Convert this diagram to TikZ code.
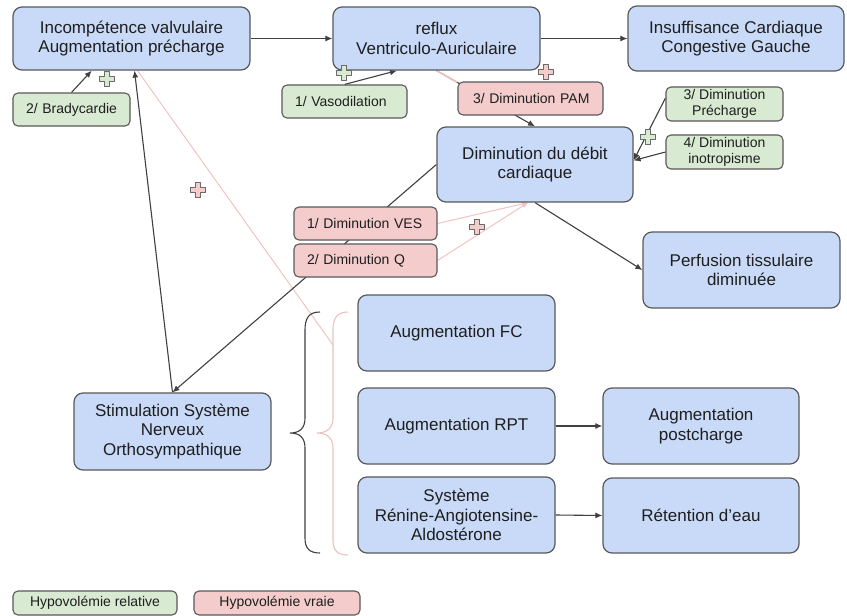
\documentclass[tikz,border=0pt]{standalone}
\usepackage{fontspec}
\setmainfont{Liberation Sans}
\usetikzlibrary{arrows.meta,calc}
\definecolor{bluefill}{HTML}{C9DAF8}
\definecolor{greenfill}{HTML}{D9EAD3}
\definecolor{redfill}{HTML}{F4CCCC}
\definecolor{bordergray}{HTML}{595959}
\definecolor{txt}{HTML}{1E1E1E}
\definecolor{edgegray}{HTML}{404040}
\definecolor{pinkln}{HTML}{F0C4C4}
\definecolor{pinkbrace}{HTML}{EBC3BE}
\definecolor{plusborder}{HTML}{6A6A6A}
\pgfdeclarelayer{bg}
\pgfdeclarelayer{edges}
\pgfsetlayers{bg,edges,main}
\begin{document}
\begin{tikzpicture}[x=1pt,y=-1pt,
  bigbox/.style={draw=bordergray, line width=1.2pt, fill=bluefill, rounded corners=9pt,
    align=center, inner sep=0pt, text=txt, font=\fontsize{17}{19.5}\selectfont},
  smallbox/.style={draw=bordergray, line width=1.1pt, rounded corners=5pt,
    align=center, inner sep=0pt, text=txt, font=\fontsize{14}{16}\selectfont},
  gbox/.style={smallbox, fill=greenfill},
  rbox/.style={smallbox, fill=redfill},
  leftbox/.style={align=left, inner xsep=13pt},
  edge/.style={draw=edgegray, line width=1.1pt, -{Latex[length=7pt,width=6pt]}},
  pinkedge/.style={draw=pinkln, line width=1pt},
  bracepath/.style={line width=1.1pt},
  pics/crossmark/.style={code={
    \draw[draw=plusborder, line width=1pt, fill=#1, line join=round]
      (-2.7,-7.5) -- (2.7,-7.5) -- (2.7,-2.7) -- (7.5,-2.7) -- (7.5,2.7) -- (2.7,2.7) -- (2.7,7.5)
      -- (-2.7,7.5) -- (-2.7,2.7) -- (-7.5,2.7) -- (-7.5,-2.7) -- (-2.7,-2.7) -- cycle;}}
]
\begin{pgfonlayer}{bg}
  \fill[white] (0,0) rectangle (847,616);
\end{pgfonlayer}
\useasboundingbox (0,0) rectangle (847,616);

% big boxes
\node[bigbox, minimum width=237pt, minimum height=63pt] (A) at (131.5,38.5) {Incompétence valvulaire\\Augmentation précharge};
\node[bigbox, minimum width=207pt, minimum height=63pt] (B) at (436.5,38.5) {reflux\\Ventriculo-Auriculaire};
\node[bigbox, minimum width=216pt, minimum height=65pt] (C) at (736,38.5) {Insuffisance Cardiaque\\Congestive Gauche};
\node[bigbox, minimum width=196pt, minimum height=75pt] (D) at (535,164.5) {Diminution du débit\\cardiaque};
\node[bigbox, minimum width=197pt, minimum height=76pt] (E) at (741.5,270) {Perfusion tissulaire\\diminuée};
\node[bigbox, minimum width=197pt, minimum height=76pt] (F1) at (456.5,333) {Augmentation FC};
\node[bigbox, minimum width=197pt, minimum height=76pt] (F2) at (456.5,426) {Augmentation RPT};
\node[bigbox, minimum width=197pt, minimum height=76pt] (F3) at (456.5,515) {Système\\Rénine-Angiotensine-\\Aldostérone};
\node[bigbox, minimum width=196pt, minimum height=76pt] (G2) at (701,426) {Augmentation\\postcharge};
\node[bigbox, minimum width=196pt, minimum height=75pt] (G3) at (701,515.5) {Rétention d'eau};
\node[bigbox, minimum width=197pt, minimum height=77pt] (S) at (172.5,431.5) {Stimulation Système\\Nerveux\\Orthosympathique};

% small boxes
\node[gbox, leftbox, text width=91pt, minimum height=33pt] (brady) at (71.5,109.5) {\mbox{2/ Bradycardie}};
\node[gbox, leftbox, text width=99pt, minimum height=33pt] (vaso) at (344.5,101.5) {\mbox{1/ Vasodilation}};
\node[rbox, leftbox, inner xsep=15pt, text width=115pt, minimum height=33pt] (pam) at (530.5,98.5) {\mbox{3/ Diminution PAM}};
\node[gbox, minimum width=117pt, minimum height=34pt] (prech) at (724.5,104) {3/ Diminution\\Précharge};
\node[gbox, minimum width=117pt, minimum height=34pt] (inot) at (724.5,152) {4/ Diminution\\inotropisme};
\node[rbox, leftbox, text width=117pt, minimum height=33pt] (ves) at (365.5,223.5) {\mbox{1/ Diminution VES}};
\node[rbox, leftbox, text width=117pt, minimum height=33pt] (q) at (365.5,260.5) {\mbox{2/ Diminution Q}};
\node[gbox, minimum width=164pt, minimum height=24pt] (leg1) at (95,603) {Hypovolémie relative};
\node[rbox, minimum width=166pt, minimum height=24pt] (leg2) at (277,603) {Hypovolémie vraie};

% braces
\draw[bracepath, draw=edgegray] (320,312) .. controls (309,312) and (305,318) .. (305,330)
  -- (305,418) .. controls (305,428) and (300,433) .. (290,433)
  .. controls (300,433) and (305,438) .. (305,448)
  -- (305,538) .. controls (305,548) and (309,553) .. (320,553);
\draw[bracepath, draw=pinkbrace] (348,312) .. controls (337,312) and (333,318) .. (333,330)
  -- (333,418) .. controls (333,428) and (327,433) .. (317,433)
  .. controls (327,433) and (333,438) .. (333,448)
  -- (333,540) .. controls (333,550) and (337,555) .. (348,555);
\coordinate (pb) at (333,345);

% connectors
\begin{pgfonlayer}{edges}
\draw[edge] (A.east) -- (B.west);
\draw[edge] (B.east) -- (C.west);
\draw[edge] (brady.north) -- ($(A.south west)!0.333!(A.south east)$);
\draw[edge] (S.north) -- ($(A.south)+(3,0)$);
\draw[pinkedge] (pb) -- ($(A.south)+(6,0)$);
\draw[edge] (D.west) -- (S.north);
\draw[edge] (B.south) -- (D.north);
\draw[pinkedge, line width=1.4pt] (B.south) -- ($(B.south)!0.21!(D.north)$);
\draw[edge] (vaso.north) -- ($(B.south west)!0.31!(B.south east)$);
\draw[edge] ($(prech.west)+(0,-6)$) -- ($(D.east)+(0,-4)$);
\draw[edge] (inot.west) -- ($(D.east)+(0,-4)$);
\draw[pinkedge, -{Latex[length=6pt,width=5pt]}] (ves.east) -- ($(D.south)+(-7,0)$);
\draw[pinkedge, -{Latex[length=6pt,width=5pt]}] (q.east) -- ($(D.south)+(-7,0)$);
\draw[edge] (D.south) -- (E.west);
\draw[edge] (F2.east) -- (G2.west);
\draw[edge] (F3.east) -- (G3.west);
\end{pgfonlayer}

% plus marks
\pic at (107,79) {crossmark=greenfill};
\pic at (344,73) {crossmark=greenfill};
\pic at (648,137) {crossmark=greenfill};
\pic at (546,72) {crossmark=redfill};
\pic at (198,190) {crossmark=redfill};
\pic at (477,227) {crossmark=redfill};
\end{tikzpicture}
\end{document}
